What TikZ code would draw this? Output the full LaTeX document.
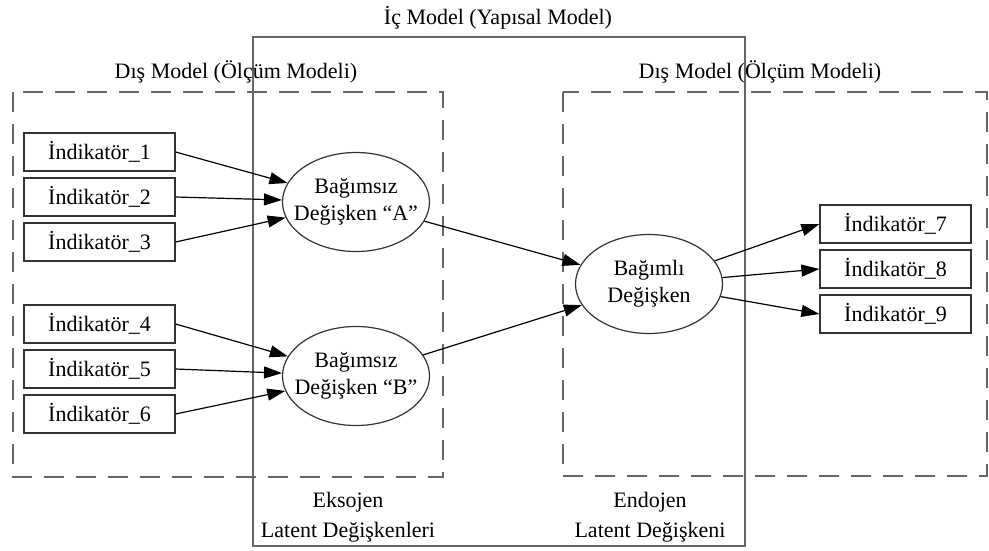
\documentclass[tikz,border=0pt]{standalone}
\usepackage{fontspec}
\setmainfont{Liberation Serif}
\usetikzlibrary{arrows.meta,shapes.geometric}
\begin{document}
\begin{tikzpicture}[x=1pt,y=-1pt,
 ind/.style={draw=black!80, line width=1.2pt, minimum width=151pt, minimum height=38pt, inner sep=0pt, fill=white, font=\fontsize{22}{26}\selectfont},
 lat/.style={draw=black!80, ellipse, line width=1.2pt, minimum width=147pt, minimum height=99pt, inner xsep=-25pt, inner ysep=-8pt, align=center, fill=white, font=\fontsize{22}{27}\selectfont},
 lbl/.style={align=center, font=\fontsize{22}{30}\selectfont, inner sep=0pt},
 arr/.style={-{Triangle[length=18pt,width=12pt]}, line width=1.2pt},
 dbox/.style={draw=black!60, line width=1.5pt, dash pattern=on 20pt off 12pt},
 sbox/.style={draw=black!60, line width=1.8pt}]
\useasboundingbox (0,0) rectangle (989,550);
% containers
\draw[sbox] (253,37) rectangle (745,546);
\draw[dbox] (13,92) rectangle (443,477);
\draw[dbox] (563,92) rectangle (987,476);
% titles
\node[lbl] (t0) at (498,18) {İç Model (Yapısal Model)};
\node[lbl] (t1) at (236,72) {Dış Model (Ölçüm Modeli)};
\node[lbl] (t2) at (760,72) {Dış Model (Ölçüm Modeli)};
\node[lbl] (t3) at (348,517) {Eksojen\\Latent Değişkenleri};
\node[lbl] (t4) at (650,517) {Endojen\\Latent Değişkeni};
% indicators
\node[ind] (i1) at (99.5,152) {İndikatör\_1};
\node[ind] (i2) at (99.5,197) {İndikatör\_2};
\node[ind] (i3) at (99.5,242) {İndikatör\_3};
\node[ind] (i4) at (99.5,324) {İndikatör\_4};
\node[ind] (i5) at (99.5,369) {İndikatör\_5};
\node[ind] (i6) at (99.5,414) {İndikatör\_6};
\node[ind] (i7) at (895.5,224) {İndikatör\_7};
\node[ind] (i8) at (895.5,269) {İndikatör\_8};
\node[ind] (i9) at (895.5,314) {İndikatör\_9};
% latent
\node[lat] (A) at (356,202) {Bağımsız\\Değişken “A”};
\node[lat] (B) at (356,376) {Bağımsız\\Değişken “B”};
\node[lat] (C) at (649,284) {Bağımlı\\Değişken};
% arrows
\draw[arr] (i1.east) -- (A);
\draw[arr] (i2.east) -- (A);
\draw[arr] (i3.east) -- (A);
\draw[arr] (i4.east) -- (B);
\draw[arr] (i5.east) -- (B);
\draw[arr] (i6.east) -- (B);
\draw[arr] (A) -- (C);
\draw[arr] (B) -- (C);
\draw[arr] (C) -- (i7.west);
\draw[arr] (C) -- (i8.west);
\draw[arr] (C) -- (i9.west);
\end{tikzpicture}
\end{document}
